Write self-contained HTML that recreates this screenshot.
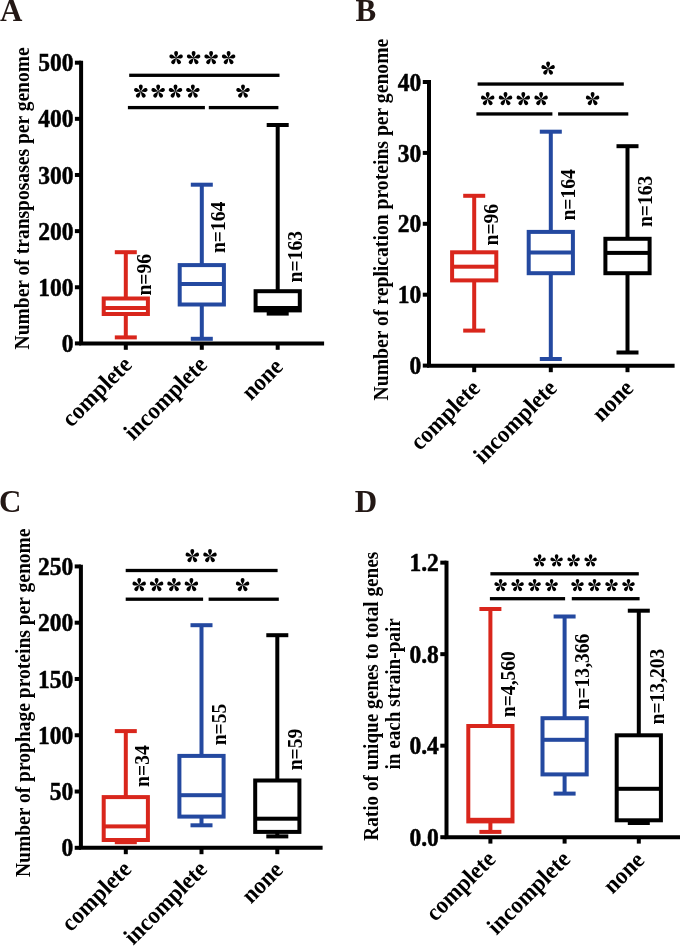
<!DOCTYPE html>
<html><head><meta charset="utf-8"><style>html,body{margin:0;padding:0;background:#fff;}svg{display:block;will-change:transform;}</style></head>
<body><svg width="685" height="947" viewBox="0 0 685 947">
<rect width="685" height="947" fill="#fff"/>
<text transform="translate(0.10,20.60)" font-family="Liberation Serif" font-weight="bold" font-size="31" text-anchor="start" fill="#231815">A</text>
<path d="M81.10,60.70 V343.40 H324.10" fill="none" stroke="#000" stroke-width="4.0" stroke-linejoin="miter"/>
<rect x="74.90" y="60.70" width="6.20" height="4.00" fill="#000"/>
<text transform="translate(73.40,71.30) scale(0.94,1)" font-family="Liberation Serif" font-weight="bold" font-size="25" text-anchor="end" fill="#000" stroke="#000" stroke-width="0.5">500</text>
<rect x="74.90" y="116.84" width="6.20" height="4.00" fill="#000"/>
<text transform="translate(73.40,127.44) scale(0.94,1)" font-family="Liberation Serif" font-weight="bold" font-size="25" text-anchor="end" fill="#000" stroke="#000" stroke-width="0.5">400</text>
<rect x="74.90" y="172.98" width="6.20" height="4.00" fill="#000"/>
<text transform="translate(73.40,183.58) scale(0.94,1)" font-family="Liberation Serif" font-weight="bold" font-size="25" text-anchor="end" fill="#000" stroke="#000" stroke-width="0.5">300</text>
<rect x="74.90" y="229.12" width="6.20" height="4.00" fill="#000"/>
<text transform="translate(73.40,239.72) scale(0.94,1)" font-family="Liberation Serif" font-weight="bold" font-size="25" text-anchor="end" fill="#000" stroke="#000" stroke-width="0.5">200</text>
<rect x="74.90" y="285.26" width="6.20" height="4.00" fill="#000"/>
<text transform="translate(73.40,295.86) scale(0.94,1)" font-family="Liberation Serif" font-weight="bold" font-size="25" text-anchor="end" fill="#000" stroke="#000" stroke-width="0.5">100</text>
<rect x="74.90" y="341.40" width="6.20" height="4.00" fill="#000"/>
<text transform="translate(73.40,352.00) scale(0.94,1)" font-family="Liberation Serif" font-weight="bold" font-size="25" text-anchor="end" fill="#000" stroke="#000" stroke-width="0.5">0</text>
<rect x="123.80" y="343.40" width="4.00" height="6.40" fill="#000"/>
<rect x="199.80" y="343.40" width="4.00" height="6.40" fill="#000"/>
<rect x="275.70" y="343.40" width="4.00" height="6.40" fill="#000"/>
<rect x="123.80" y="252.20" width="4.00" height="46.30" fill="#D9261C"/>
<rect x="123.80" y="314.00" width="4.00" height="23.40" fill="#D9261C"/>
<rect x="114.80" y="250.20" width="22.00" height="4.00" fill="#D9261C"/>
<rect x="114.80" y="335.40" width="22.00" height="4.00" fill="#D9261C"/>
<rect x="103.70" y="298.50" width="44.20" height="15.50" fill="none" stroke="#D9261C" stroke-width="4.0"/>
<rect x="103.70" y="306.00" width="44.20" height="4.00" fill="#D9261C"/>
<rect x="199.80" y="184.70" width="4.00" height="80.40" fill="#2449A0"/>
<rect x="199.80" y="304.50" width="4.00" height="34.30" fill="#2449A0"/>
<rect x="190.80" y="182.70" width="22.00" height="4.00" fill="#2449A0"/>
<rect x="190.80" y="336.80" width="22.00" height="4.00" fill="#2449A0"/>
<rect x="179.70" y="265.10" width="44.20" height="39.40" fill="none" stroke="#2449A0" stroke-width="4.0"/>
<rect x="179.70" y="282.00" width="44.20" height="4.00" fill="#2449A0"/>
<rect x="275.70" y="125.00" width="4.00" height="166.20" fill="#000"/>
<rect x="275.70" y="310.40" width="4.00" height="3.20" fill="#000"/>
<rect x="266.70" y="123.00" width="22.00" height="4.00" fill="#000"/>
<rect x="266.70" y="311.60" width="22.00" height="4.00" fill="#000"/>
<rect x="255.60" y="291.20" width="44.20" height="19.20" fill="none" stroke="#000" stroke-width="4.0"/>
<rect x="255.60" y="306.00" width="44.20" height="4.00" fill="#000"/>
<rect x="129.20" y="73.65" width="150.30" height="3.30" fill="#000"/>
<rect x="127.90" y="105.95" width="77.00" height="3.30" fill="#000"/>
<rect x="208.80" y="105.95" width="69.60" height="3.30" fill="#000"/>
<g transform="translate(176.10,58.00) scale(1.0)" fill="#000"><path d="M0 .4C-.25 -1.4 -1.95 -3.15 -1.95 -5.05A1.95 1.95 0 1 1 1.95 -5.05C1.95 -3.15 .25 -1.4 0 .4Z" transform="rotate(0)"/><path d="M0 .4C-.25 -1.4 -1.95 -3.15 -1.95 -5.05A1.95 1.95 0 1 1 1.95 -5.05C1.95 -3.15 .25 -1.4 0 .4Z" transform="rotate(72)"/><path d="M0 .4C-.25 -1.4 -1.95 -3.15 -1.95 -5.05A1.95 1.95 0 1 1 1.95 -5.05C1.95 -3.15 .25 -1.4 0 .4Z" transform="rotate(144)"/><path d="M0 .4C-.25 -1.4 -1.95 -3.15 -1.95 -5.05A1.95 1.95 0 1 1 1.95 -5.05C1.95 -3.15 .25 -1.4 0 .4Z" transform="rotate(216)"/><path d="M0 .4C-.25 -1.4 -1.95 -3.15 -1.95 -5.05A1.95 1.95 0 1 1 1.95 -5.05C1.95 -3.15 .25 -1.4 0 .4Z" transform="rotate(288)"/></g>
<g transform="translate(193.60,58.00) scale(1.0)" fill="#000"><path d="M0 .4C-.25 -1.4 -1.95 -3.15 -1.95 -5.05A1.95 1.95 0 1 1 1.95 -5.05C1.95 -3.15 .25 -1.4 0 .4Z" transform="rotate(0)"/><path d="M0 .4C-.25 -1.4 -1.95 -3.15 -1.95 -5.05A1.95 1.95 0 1 1 1.95 -5.05C1.95 -3.15 .25 -1.4 0 .4Z" transform="rotate(72)"/><path d="M0 .4C-.25 -1.4 -1.95 -3.15 -1.95 -5.05A1.95 1.95 0 1 1 1.95 -5.05C1.95 -3.15 .25 -1.4 0 .4Z" transform="rotate(144)"/><path d="M0 .4C-.25 -1.4 -1.95 -3.15 -1.95 -5.05A1.95 1.95 0 1 1 1.95 -5.05C1.95 -3.15 .25 -1.4 0 .4Z" transform="rotate(216)"/><path d="M0 .4C-.25 -1.4 -1.95 -3.15 -1.95 -5.05A1.95 1.95 0 1 1 1.95 -5.05C1.95 -3.15 .25 -1.4 0 .4Z" transform="rotate(288)"/></g>
<g transform="translate(211.10,58.00) scale(1.0)" fill="#000"><path d="M0 .4C-.25 -1.4 -1.95 -3.15 -1.95 -5.05A1.95 1.95 0 1 1 1.95 -5.05C1.95 -3.15 .25 -1.4 0 .4Z" transform="rotate(0)"/><path d="M0 .4C-.25 -1.4 -1.95 -3.15 -1.95 -5.05A1.95 1.95 0 1 1 1.95 -5.05C1.95 -3.15 .25 -1.4 0 .4Z" transform="rotate(72)"/><path d="M0 .4C-.25 -1.4 -1.95 -3.15 -1.95 -5.05A1.95 1.95 0 1 1 1.95 -5.05C1.95 -3.15 .25 -1.4 0 .4Z" transform="rotate(144)"/><path d="M0 .4C-.25 -1.4 -1.95 -3.15 -1.95 -5.05A1.95 1.95 0 1 1 1.95 -5.05C1.95 -3.15 .25 -1.4 0 .4Z" transform="rotate(216)"/><path d="M0 .4C-.25 -1.4 -1.95 -3.15 -1.95 -5.05A1.95 1.95 0 1 1 1.95 -5.05C1.95 -3.15 .25 -1.4 0 .4Z" transform="rotate(288)"/></g>
<g transform="translate(228.60,58.00) scale(1.0)" fill="#000"><path d="M0 .4C-.25 -1.4 -1.95 -3.15 -1.95 -5.05A1.95 1.95 0 1 1 1.95 -5.05C1.95 -3.15 .25 -1.4 0 .4Z" transform="rotate(0)"/><path d="M0 .4C-.25 -1.4 -1.95 -3.15 -1.95 -5.05A1.95 1.95 0 1 1 1.95 -5.05C1.95 -3.15 .25 -1.4 0 .4Z" transform="rotate(72)"/><path d="M0 .4C-.25 -1.4 -1.95 -3.15 -1.95 -5.05A1.95 1.95 0 1 1 1.95 -5.05C1.95 -3.15 .25 -1.4 0 .4Z" transform="rotate(144)"/><path d="M0 .4C-.25 -1.4 -1.95 -3.15 -1.95 -5.05A1.95 1.95 0 1 1 1.95 -5.05C1.95 -3.15 .25 -1.4 0 .4Z" transform="rotate(216)"/><path d="M0 .4C-.25 -1.4 -1.95 -3.15 -1.95 -5.05A1.95 1.95 0 1 1 1.95 -5.05C1.95 -3.15 .25 -1.4 0 .4Z" transform="rotate(288)"/></g>
<g transform="translate(140.80,91.50) scale(1.0)" fill="#000"><path d="M0 .4C-.25 -1.4 -1.95 -3.15 -1.95 -5.05A1.95 1.95 0 1 1 1.95 -5.05C1.95 -3.15 .25 -1.4 0 .4Z" transform="rotate(0)"/><path d="M0 .4C-.25 -1.4 -1.95 -3.15 -1.95 -5.05A1.95 1.95 0 1 1 1.95 -5.05C1.95 -3.15 .25 -1.4 0 .4Z" transform="rotate(72)"/><path d="M0 .4C-.25 -1.4 -1.95 -3.15 -1.95 -5.05A1.95 1.95 0 1 1 1.95 -5.05C1.95 -3.15 .25 -1.4 0 .4Z" transform="rotate(144)"/><path d="M0 .4C-.25 -1.4 -1.95 -3.15 -1.95 -5.05A1.95 1.95 0 1 1 1.95 -5.05C1.95 -3.15 .25 -1.4 0 .4Z" transform="rotate(216)"/><path d="M0 .4C-.25 -1.4 -1.95 -3.15 -1.95 -5.05A1.95 1.95 0 1 1 1.95 -5.05C1.95 -3.15 .25 -1.4 0 .4Z" transform="rotate(288)"/></g>
<g transform="translate(158.15,91.50) scale(1.0)" fill="#000"><path d="M0 .4C-.25 -1.4 -1.95 -3.15 -1.95 -5.05A1.95 1.95 0 1 1 1.95 -5.05C1.95 -3.15 .25 -1.4 0 .4Z" transform="rotate(0)"/><path d="M0 .4C-.25 -1.4 -1.95 -3.15 -1.95 -5.05A1.95 1.95 0 1 1 1.95 -5.05C1.95 -3.15 .25 -1.4 0 .4Z" transform="rotate(72)"/><path d="M0 .4C-.25 -1.4 -1.95 -3.15 -1.95 -5.05A1.95 1.95 0 1 1 1.95 -5.05C1.95 -3.15 .25 -1.4 0 .4Z" transform="rotate(144)"/><path d="M0 .4C-.25 -1.4 -1.95 -3.15 -1.95 -5.05A1.95 1.95 0 1 1 1.95 -5.05C1.95 -3.15 .25 -1.4 0 .4Z" transform="rotate(216)"/><path d="M0 .4C-.25 -1.4 -1.95 -3.15 -1.95 -5.05A1.95 1.95 0 1 1 1.95 -5.05C1.95 -3.15 .25 -1.4 0 .4Z" transform="rotate(288)"/></g>
<g transform="translate(175.50,91.50) scale(1.0)" fill="#000"><path d="M0 .4C-.25 -1.4 -1.95 -3.15 -1.95 -5.05A1.95 1.95 0 1 1 1.95 -5.05C1.95 -3.15 .25 -1.4 0 .4Z" transform="rotate(0)"/><path d="M0 .4C-.25 -1.4 -1.95 -3.15 -1.95 -5.05A1.95 1.95 0 1 1 1.95 -5.05C1.95 -3.15 .25 -1.4 0 .4Z" transform="rotate(72)"/><path d="M0 .4C-.25 -1.4 -1.95 -3.15 -1.95 -5.05A1.95 1.95 0 1 1 1.95 -5.05C1.95 -3.15 .25 -1.4 0 .4Z" transform="rotate(144)"/><path d="M0 .4C-.25 -1.4 -1.95 -3.15 -1.95 -5.05A1.95 1.95 0 1 1 1.95 -5.05C1.95 -3.15 .25 -1.4 0 .4Z" transform="rotate(216)"/><path d="M0 .4C-.25 -1.4 -1.95 -3.15 -1.95 -5.05A1.95 1.95 0 1 1 1.95 -5.05C1.95 -3.15 .25 -1.4 0 .4Z" transform="rotate(288)"/></g>
<g transform="translate(192.85,91.50) scale(1.0)" fill="#000"><path d="M0 .4C-.25 -1.4 -1.95 -3.15 -1.95 -5.05A1.95 1.95 0 1 1 1.95 -5.05C1.95 -3.15 .25 -1.4 0 .4Z" transform="rotate(0)"/><path d="M0 .4C-.25 -1.4 -1.95 -3.15 -1.95 -5.05A1.95 1.95 0 1 1 1.95 -5.05C1.95 -3.15 .25 -1.4 0 .4Z" transform="rotate(72)"/><path d="M0 .4C-.25 -1.4 -1.95 -3.15 -1.95 -5.05A1.95 1.95 0 1 1 1.95 -5.05C1.95 -3.15 .25 -1.4 0 .4Z" transform="rotate(144)"/><path d="M0 .4C-.25 -1.4 -1.95 -3.15 -1.95 -5.05A1.95 1.95 0 1 1 1.95 -5.05C1.95 -3.15 .25 -1.4 0 .4Z" transform="rotate(216)"/><path d="M0 .4C-.25 -1.4 -1.95 -3.15 -1.95 -5.05A1.95 1.95 0 1 1 1.95 -5.05C1.95 -3.15 .25 -1.4 0 .4Z" transform="rotate(288)"/></g>
<g transform="translate(243.00,91.50) scale(1.0)" fill="#000"><path d="M0 .4C-.25 -1.4 -1.95 -3.15 -1.95 -5.05A1.95 1.95 0 1 1 1.95 -5.05C1.95 -3.15 .25 -1.4 0 .4Z" transform="rotate(0)"/><path d="M0 .4C-.25 -1.4 -1.95 -3.15 -1.95 -5.05A1.95 1.95 0 1 1 1.95 -5.05C1.95 -3.15 .25 -1.4 0 .4Z" transform="rotate(72)"/><path d="M0 .4C-.25 -1.4 -1.95 -3.15 -1.95 -5.05A1.95 1.95 0 1 1 1.95 -5.05C1.95 -3.15 .25 -1.4 0 .4Z" transform="rotate(144)"/><path d="M0 .4C-.25 -1.4 -1.95 -3.15 -1.95 -5.05A1.95 1.95 0 1 1 1.95 -5.05C1.95 -3.15 .25 -1.4 0 .4Z" transform="rotate(216)"/><path d="M0 .4C-.25 -1.4 -1.95 -3.15 -1.95 -5.05A1.95 1.95 0 1 1 1.95 -5.05C1.95 -3.15 .25 -1.4 0 .4Z" transform="rotate(288)"/></g>
<text transform="translate(29.30,198.40) rotate(-90) scale(0.9524,1)" font-family="Liberation Serif" font-weight="bold" font-size="20.527" text-anchor="middle" fill="#000">Number of transposases per genome</text>
<text transform="translate(150.90,295.60) rotate(-90) scale(0.9524,1)" font-family="Liberation Serif" font-weight="bold" font-size="20.58" text-anchor="start" fill="#000">n=96</text>
<text transform="translate(224.60,253.10) rotate(-90) scale(0.9524,1)" font-family="Liberation Serif" font-weight="bold" font-size="20.58" text-anchor="start" fill="#000">n=164</text>
<text transform="translate(302.20,282.40) rotate(-90) scale(0.9524,1)" font-family="Liberation Serif" font-weight="bold" font-size="20.58" text-anchor="start" fill="#000">n=163</text>
<text transform="translate(133.10,366.20) rotate(-45) scale(0.9524,1)" font-family="Liberation Serif" font-weight="bold" font-size="23.94" text-anchor="end" fill="#000">complete</text>
<text transform="translate(208.50,366.20) rotate(-45) scale(0.9524,1)" font-family="Liberation Serif" font-weight="bold" font-size="23.94" text-anchor="end" fill="#000">incomplete</text>
<text transform="translate(284.20,368.10) rotate(-45) scale(0.9524,1)" font-family="Liberation Serif" font-weight="bold" font-size="23.94" text-anchor="end" fill="#000">none</text>
<text transform="translate(355.60,21.20)" font-family="Liberation Serif" font-weight="bold" font-size="31" text-anchor="start" fill="#231815">B</text>
<path d="M429.00,80.00 V365.80 H674.60" fill="none" stroke="#000" stroke-width="4.0" stroke-linejoin="miter"/>
<rect x="422.80" y="80.00" width="6.20" height="4.00" fill="#000"/>
<text transform="translate(421.30,90.60) scale(0.94,1)" font-family="Liberation Serif" font-weight="bold" font-size="25" text-anchor="end" fill="#000" stroke="#000" stroke-width="0.5">40</text>
<rect x="422.80" y="150.90" width="6.20" height="4.00" fill="#000"/>
<text transform="translate(421.30,161.50) scale(0.94,1)" font-family="Liberation Serif" font-weight="bold" font-size="25" text-anchor="end" fill="#000" stroke="#000" stroke-width="0.5">30</text>
<rect x="422.80" y="221.80" width="6.20" height="4.00" fill="#000"/>
<text transform="translate(421.30,232.40) scale(0.94,1)" font-family="Liberation Serif" font-weight="bold" font-size="25" text-anchor="end" fill="#000" stroke="#000" stroke-width="0.5">20</text>
<rect x="422.80" y="292.70" width="6.20" height="4.00" fill="#000"/>
<text transform="translate(421.30,303.30) scale(0.94,1)" font-family="Liberation Serif" font-weight="bold" font-size="25" text-anchor="end" fill="#000" stroke="#000" stroke-width="0.5">10</text>
<rect x="422.80" y="363.60" width="6.20" height="4.00" fill="#000"/>
<text transform="translate(421.30,374.20) scale(0.94,1)" font-family="Liberation Serif" font-weight="bold" font-size="25" text-anchor="end" fill="#000" stroke="#000" stroke-width="0.5">0</text>
<rect x="472.20" y="365.80" width="4.00" height="6.40" fill="#000"/>
<rect x="548.80" y="365.80" width="4.00" height="6.40" fill="#000"/>
<rect x="625.50" y="365.80" width="4.00" height="6.40" fill="#000"/>
<rect x="472.20" y="195.80" width="4.00" height="56.50" fill="#D9261C"/>
<rect x="472.20" y="280.40" width="4.00" height="50.20" fill="#D9261C"/>
<rect x="463.20" y="193.80" width="22.00" height="4.00" fill="#D9261C"/>
<rect x="463.20" y="328.60" width="22.00" height="4.00" fill="#D9261C"/>
<rect x="452.10" y="252.30" width="44.20" height="28.10" fill="none" stroke="#D9261C" stroke-width="4.0"/>
<rect x="452.10" y="264.70" width="44.20" height="4.00" fill="#D9261C"/>
<rect x="548.80" y="131.70" width="4.00" height="100.20" fill="#2449A0"/>
<rect x="548.80" y="273.20" width="4.00" height="85.80" fill="#2449A0"/>
<rect x="539.80" y="129.70" width="22.00" height="4.00" fill="#2449A0"/>
<rect x="539.80" y="357.00" width="22.00" height="4.00" fill="#2449A0"/>
<rect x="528.70" y="231.90" width="44.20" height="41.30" fill="none" stroke="#2449A0" stroke-width="4.0"/>
<rect x="528.70" y="250.50" width="44.20" height="4.00" fill="#2449A0"/>
<rect x="625.50" y="146.20" width="4.00" height="92.60" fill="#000"/>
<rect x="625.50" y="273.20" width="4.00" height="79.30" fill="#000"/>
<rect x="616.50" y="144.20" width="22.00" height="4.00" fill="#000"/>
<rect x="616.50" y="350.50" width="22.00" height="4.00" fill="#000"/>
<rect x="605.40" y="238.80" width="44.20" height="34.40" fill="none" stroke="#000" stroke-width="4.0"/>
<rect x="605.40" y="250.90" width="44.20" height="4.00" fill="#000"/>
<rect x="477.60" y="82.40" width="146.20" height="3.30" fill="#000"/>
<rect x="476.40" y="112.30" width="76.00" height="3.30" fill="#000"/>
<rect x="558.10" y="112.30" width="70.20" height="3.30" fill="#000"/>
<g transform="translate(548.10,68.60) scale(1.0)" fill="#000"><path d="M0 .4C-.25 -1.4 -1.95 -3.15 -1.95 -5.05A1.95 1.95 0 1 1 1.95 -5.05C1.95 -3.15 .25 -1.4 0 .4Z" transform="rotate(0)"/><path d="M0 .4C-.25 -1.4 -1.95 -3.15 -1.95 -5.05A1.95 1.95 0 1 1 1.95 -5.05C1.95 -3.15 .25 -1.4 0 .4Z" transform="rotate(72)"/><path d="M0 .4C-.25 -1.4 -1.95 -3.15 -1.95 -5.05A1.95 1.95 0 1 1 1.95 -5.05C1.95 -3.15 .25 -1.4 0 .4Z" transform="rotate(144)"/><path d="M0 .4C-.25 -1.4 -1.95 -3.15 -1.95 -5.05A1.95 1.95 0 1 1 1.95 -5.05C1.95 -3.15 .25 -1.4 0 .4Z" transform="rotate(216)"/><path d="M0 .4C-.25 -1.4 -1.95 -3.15 -1.95 -5.05A1.95 1.95 0 1 1 1.95 -5.05C1.95 -3.15 .25 -1.4 0 .4Z" transform="rotate(288)"/></g>
<g transform="translate(487.70,99.10) scale(1.0)" fill="#000"><path d="M0 .4C-.25 -1.4 -1.95 -3.15 -1.95 -5.05A1.95 1.95 0 1 1 1.95 -5.05C1.95 -3.15 .25 -1.4 0 .4Z" transform="rotate(0)"/><path d="M0 .4C-.25 -1.4 -1.95 -3.15 -1.95 -5.05A1.95 1.95 0 1 1 1.95 -5.05C1.95 -3.15 .25 -1.4 0 .4Z" transform="rotate(72)"/><path d="M0 .4C-.25 -1.4 -1.95 -3.15 -1.95 -5.05A1.95 1.95 0 1 1 1.95 -5.05C1.95 -3.15 .25 -1.4 0 .4Z" transform="rotate(144)"/><path d="M0 .4C-.25 -1.4 -1.95 -3.15 -1.95 -5.05A1.95 1.95 0 1 1 1.95 -5.05C1.95 -3.15 .25 -1.4 0 .4Z" transform="rotate(216)"/><path d="M0 .4C-.25 -1.4 -1.95 -3.15 -1.95 -5.05A1.95 1.95 0 1 1 1.95 -5.05C1.95 -3.15 .25 -1.4 0 .4Z" transform="rotate(288)"/></g>
<g transform="translate(505.50,99.10) scale(1.0)" fill="#000"><path d="M0 .4C-.25 -1.4 -1.95 -3.15 -1.95 -5.05A1.95 1.95 0 1 1 1.95 -5.05C1.95 -3.15 .25 -1.4 0 .4Z" transform="rotate(0)"/><path d="M0 .4C-.25 -1.4 -1.95 -3.15 -1.95 -5.05A1.95 1.95 0 1 1 1.95 -5.05C1.95 -3.15 .25 -1.4 0 .4Z" transform="rotate(72)"/><path d="M0 .4C-.25 -1.4 -1.95 -3.15 -1.95 -5.05A1.95 1.95 0 1 1 1.95 -5.05C1.95 -3.15 .25 -1.4 0 .4Z" transform="rotate(144)"/><path d="M0 .4C-.25 -1.4 -1.95 -3.15 -1.95 -5.05A1.95 1.95 0 1 1 1.95 -5.05C1.95 -3.15 .25 -1.4 0 .4Z" transform="rotate(216)"/><path d="M0 .4C-.25 -1.4 -1.95 -3.15 -1.95 -5.05A1.95 1.95 0 1 1 1.95 -5.05C1.95 -3.15 .25 -1.4 0 .4Z" transform="rotate(288)"/></g>
<g transform="translate(523.30,99.10) scale(1.0)" fill="#000"><path d="M0 .4C-.25 -1.4 -1.95 -3.15 -1.95 -5.05A1.95 1.95 0 1 1 1.95 -5.05C1.95 -3.15 .25 -1.4 0 .4Z" transform="rotate(0)"/><path d="M0 .4C-.25 -1.4 -1.95 -3.15 -1.95 -5.05A1.95 1.95 0 1 1 1.95 -5.05C1.95 -3.15 .25 -1.4 0 .4Z" transform="rotate(72)"/><path d="M0 .4C-.25 -1.4 -1.95 -3.15 -1.95 -5.05A1.95 1.95 0 1 1 1.95 -5.05C1.95 -3.15 .25 -1.4 0 .4Z" transform="rotate(144)"/><path d="M0 .4C-.25 -1.4 -1.95 -3.15 -1.95 -5.05A1.95 1.95 0 1 1 1.95 -5.05C1.95 -3.15 .25 -1.4 0 .4Z" transform="rotate(216)"/><path d="M0 .4C-.25 -1.4 -1.95 -3.15 -1.95 -5.05A1.95 1.95 0 1 1 1.95 -5.05C1.95 -3.15 .25 -1.4 0 .4Z" transform="rotate(288)"/></g>
<g transform="translate(541.10,99.10) scale(1.0)" fill="#000"><path d="M0 .4C-.25 -1.4 -1.95 -3.15 -1.95 -5.05A1.95 1.95 0 1 1 1.95 -5.05C1.95 -3.15 .25 -1.4 0 .4Z" transform="rotate(0)"/><path d="M0 .4C-.25 -1.4 -1.95 -3.15 -1.95 -5.05A1.95 1.95 0 1 1 1.95 -5.05C1.95 -3.15 .25 -1.4 0 .4Z" transform="rotate(72)"/><path d="M0 .4C-.25 -1.4 -1.95 -3.15 -1.95 -5.05A1.95 1.95 0 1 1 1.95 -5.05C1.95 -3.15 .25 -1.4 0 .4Z" transform="rotate(144)"/><path d="M0 .4C-.25 -1.4 -1.95 -3.15 -1.95 -5.05A1.95 1.95 0 1 1 1.95 -5.05C1.95 -3.15 .25 -1.4 0 .4Z" transform="rotate(216)"/><path d="M0 .4C-.25 -1.4 -1.95 -3.15 -1.95 -5.05A1.95 1.95 0 1 1 1.95 -5.05C1.95 -3.15 .25 -1.4 0 .4Z" transform="rotate(288)"/></g>
<g transform="translate(592.60,99.10) scale(1.0)" fill="#000"><path d="M0 .4C-.25 -1.4 -1.95 -3.15 -1.95 -5.05A1.95 1.95 0 1 1 1.95 -5.05C1.95 -3.15 .25 -1.4 0 .4Z" transform="rotate(0)"/><path d="M0 .4C-.25 -1.4 -1.95 -3.15 -1.95 -5.05A1.95 1.95 0 1 1 1.95 -5.05C1.95 -3.15 .25 -1.4 0 .4Z" transform="rotate(72)"/><path d="M0 .4C-.25 -1.4 -1.95 -3.15 -1.95 -5.05A1.95 1.95 0 1 1 1.95 -5.05C1.95 -3.15 .25 -1.4 0 .4Z" transform="rotate(144)"/><path d="M0 .4C-.25 -1.4 -1.95 -3.15 -1.95 -5.05A1.95 1.95 0 1 1 1.95 -5.05C1.95 -3.15 .25 -1.4 0 .4Z" transform="rotate(216)"/><path d="M0 .4C-.25 -1.4 -1.95 -3.15 -1.95 -5.05A1.95 1.95 0 1 1 1.95 -5.05C1.95 -3.15 .25 -1.4 0 .4Z" transform="rotate(288)"/></g>
<text transform="translate(387.80,219.55) rotate(-90) scale(0.9524,1)" font-family="Liberation Serif" font-weight="bold" font-size="20.664" text-anchor="middle" fill="#000">Number of replication proteins per genome</text>
<text transform="translate(498.00,245.50) rotate(-90) scale(0.9524,1)" font-family="Liberation Serif" font-weight="bold" font-size="20.58" text-anchor="start" fill="#000">n=96</text>
<text transform="translate(574.60,220.60) rotate(-90) scale(0.9524,1)" font-family="Liberation Serif" font-weight="bold" font-size="20.58" text-anchor="start" fill="#000">n=164</text>
<text transform="translate(651.90,227.10) rotate(-90) scale(0.9524,1)" font-family="Liberation Serif" font-weight="bold" font-size="20.58" text-anchor="start" fill="#000">n=163</text>
<text transform="translate(481.50,389.60) rotate(-45) scale(0.9524,1)" font-family="Liberation Serif" font-weight="bold" font-size="23.94" text-anchor="end" fill="#000">complete</text>
<text transform="translate(558.10,389.60) rotate(-45) scale(0.9524,1)" font-family="Liberation Serif" font-weight="bold" font-size="23.94" text-anchor="end" fill="#000">incomplete</text>
<text transform="translate(634.70,389.50) rotate(-45) scale(0.9524,1)" font-family="Liberation Serif" font-weight="bold" font-size="23.94" text-anchor="end" fill="#000">none</text>
<text transform="translate(-0.90,512.10)" font-family="Liberation Serif" font-weight="bold" font-size="31" text-anchor="start" fill="#231815">C</text>
<path d="M80.90,564.80 V847.80 H322.60" fill="none" stroke="#000" stroke-width="4.0" stroke-linejoin="miter"/>
<rect x="74.70" y="564.42" width="6.20" height="4.00" fill="#000"/>
<text transform="translate(73.20,575.02) scale(0.94,1)" font-family="Liberation Serif" font-weight="bold" font-size="25" text-anchor="end" fill="#000" stroke="#000" stroke-width="0.5">250</text>
<rect x="74.70" y="620.70" width="6.20" height="4.00" fill="#000"/>
<text transform="translate(73.20,631.30) scale(0.94,1)" font-family="Liberation Serif" font-weight="bold" font-size="25" text-anchor="end" fill="#000" stroke="#000" stroke-width="0.5">200</text>
<rect x="74.70" y="676.97" width="6.20" height="4.00" fill="#000"/>
<text transform="translate(73.20,687.57) scale(0.94,1)" font-family="Liberation Serif" font-weight="bold" font-size="25" text-anchor="end" fill="#000" stroke="#000" stroke-width="0.5">150</text>
<rect x="74.70" y="733.25" width="6.20" height="4.00" fill="#000"/>
<text transform="translate(73.20,743.85) scale(0.94,1)" font-family="Liberation Serif" font-weight="bold" font-size="25" text-anchor="end" fill="#000" stroke="#000" stroke-width="0.5">100</text>
<rect x="74.70" y="789.52" width="6.20" height="4.00" fill="#000"/>
<text transform="translate(73.20,800.12) scale(0.94,1)" font-family="Liberation Serif" font-weight="bold" font-size="25" text-anchor="end" fill="#000" stroke="#000" stroke-width="0.5">50</text>
<rect x="74.70" y="845.80" width="6.20" height="4.00" fill="#000"/>
<text transform="translate(73.20,856.40) scale(0.94,1)" font-family="Liberation Serif" font-weight="bold" font-size="25" text-anchor="end" fill="#000" stroke="#000" stroke-width="0.5">0</text>
<rect x="123.80" y="847.80" width="4.00" height="6.40" fill="#000"/>
<rect x="199.50" y="847.80" width="4.00" height="6.40" fill="#000"/>
<rect x="275.30" y="847.80" width="4.00" height="6.40" fill="#000"/>
<rect x="123.80" y="731.10" width="4.00" height="66.00" fill="#D9261C"/>
<rect x="123.80" y="840.00" width="4.00" height="2.20" fill="#D9261C"/>
<rect x="114.80" y="729.10" width="22.00" height="4.00" fill="#D9261C"/>
<rect x="114.80" y="840.20" width="22.00" height="4.00" fill="#D9261C"/>
<rect x="103.70" y="797.10" width="44.20" height="42.90" fill="none" stroke="#D9261C" stroke-width="4.0"/>
<rect x="103.70" y="824.40" width="44.20" height="4.00" fill="#D9261C"/>
<rect x="199.50" y="625.20" width="4.00" height="130.70" fill="#2449A0"/>
<rect x="199.50" y="816.60" width="4.00" height="8.70" fill="#2449A0"/>
<rect x="190.50" y="623.20" width="22.00" height="4.00" fill="#2449A0"/>
<rect x="190.50" y="823.30" width="22.00" height="4.00" fill="#2449A0"/>
<rect x="179.40" y="755.90" width="44.20" height="60.70" fill="none" stroke="#2449A0" stroke-width="4.0"/>
<rect x="179.40" y="793.20" width="44.20" height="4.00" fill="#2449A0"/>
<rect x="275.30" y="635.20" width="4.00" height="145.30" fill="#000"/>
<rect x="275.30" y="831.90" width="4.00" height="4.50" fill="#000"/>
<rect x="266.30" y="633.20" width="22.00" height="4.00" fill="#000"/>
<rect x="266.30" y="834.40" width="22.00" height="4.00" fill="#000"/>
<rect x="255.20" y="780.50" width="44.20" height="51.40" fill="none" stroke="#000" stroke-width="4.0"/>
<rect x="255.20" y="816.70" width="44.20" height="4.00" fill="#000"/>
<rect x="125.70" y="568.85" width="151.90" height="3.30" fill="#000"/>
<rect x="125.70" y="597.55" width="77.40" height="3.30" fill="#000"/>
<rect x="208.60" y="597.55" width="70.20" height="3.30" fill="#000"/>
<g transform="translate(192.30,556.10) scale(1.0)" fill="#000"><path d="M0 .4C-.25 -1.4 -1.95 -3.15 -1.95 -5.05A1.95 1.95 0 1 1 1.95 -5.05C1.95 -3.15 .25 -1.4 0 .4Z" transform="rotate(0)"/><path d="M0 .4C-.25 -1.4 -1.95 -3.15 -1.95 -5.05A1.95 1.95 0 1 1 1.95 -5.05C1.95 -3.15 .25 -1.4 0 .4Z" transform="rotate(72)"/><path d="M0 .4C-.25 -1.4 -1.95 -3.15 -1.95 -5.05A1.95 1.95 0 1 1 1.95 -5.05C1.95 -3.15 .25 -1.4 0 .4Z" transform="rotate(144)"/><path d="M0 .4C-.25 -1.4 -1.95 -3.15 -1.95 -5.05A1.95 1.95 0 1 1 1.95 -5.05C1.95 -3.15 .25 -1.4 0 .4Z" transform="rotate(216)"/><path d="M0 .4C-.25 -1.4 -1.95 -3.15 -1.95 -5.05A1.95 1.95 0 1 1 1.95 -5.05C1.95 -3.15 .25 -1.4 0 .4Z" transform="rotate(288)"/></g>
<g transform="translate(210.00,556.10) scale(1.0)" fill="#000"><path d="M0 .4C-.25 -1.4 -1.95 -3.15 -1.95 -5.05A1.95 1.95 0 1 1 1.95 -5.05C1.95 -3.15 .25 -1.4 0 .4Z" transform="rotate(0)"/><path d="M0 .4C-.25 -1.4 -1.95 -3.15 -1.95 -5.05A1.95 1.95 0 1 1 1.95 -5.05C1.95 -3.15 .25 -1.4 0 .4Z" transform="rotate(72)"/><path d="M0 .4C-.25 -1.4 -1.95 -3.15 -1.95 -5.05A1.95 1.95 0 1 1 1.95 -5.05C1.95 -3.15 .25 -1.4 0 .4Z" transform="rotate(144)"/><path d="M0 .4C-.25 -1.4 -1.95 -3.15 -1.95 -5.05A1.95 1.95 0 1 1 1.95 -5.05C1.95 -3.15 .25 -1.4 0 .4Z" transform="rotate(216)"/><path d="M0 .4C-.25 -1.4 -1.95 -3.15 -1.95 -5.05A1.95 1.95 0 1 1 1.95 -5.05C1.95 -3.15 .25 -1.4 0 .4Z" transform="rotate(288)"/></g>
<g transform="translate(139.20,585.10) scale(1.0)" fill="#000"><path d="M0 .4C-.25 -1.4 -1.95 -3.15 -1.95 -5.05A1.95 1.95 0 1 1 1.95 -5.05C1.95 -3.15 .25 -1.4 0 .4Z" transform="rotate(0)"/><path d="M0 .4C-.25 -1.4 -1.95 -3.15 -1.95 -5.05A1.95 1.95 0 1 1 1.95 -5.05C1.95 -3.15 .25 -1.4 0 .4Z" transform="rotate(72)"/><path d="M0 .4C-.25 -1.4 -1.95 -3.15 -1.95 -5.05A1.95 1.95 0 1 1 1.95 -5.05C1.95 -3.15 .25 -1.4 0 .4Z" transform="rotate(144)"/><path d="M0 .4C-.25 -1.4 -1.95 -3.15 -1.95 -5.05A1.95 1.95 0 1 1 1.95 -5.05C1.95 -3.15 .25 -1.4 0 .4Z" transform="rotate(216)"/><path d="M0 .4C-.25 -1.4 -1.95 -3.15 -1.95 -5.05A1.95 1.95 0 1 1 1.95 -5.05C1.95 -3.15 .25 -1.4 0 .4Z" transform="rotate(288)"/></g>
<g transform="translate(156.60,585.10) scale(1.0)" fill="#000"><path d="M0 .4C-.25 -1.4 -1.95 -3.15 -1.95 -5.05A1.95 1.95 0 1 1 1.95 -5.05C1.95 -3.15 .25 -1.4 0 .4Z" transform="rotate(0)"/><path d="M0 .4C-.25 -1.4 -1.95 -3.15 -1.95 -5.05A1.95 1.95 0 1 1 1.95 -5.05C1.95 -3.15 .25 -1.4 0 .4Z" transform="rotate(72)"/><path d="M0 .4C-.25 -1.4 -1.95 -3.15 -1.95 -5.05A1.95 1.95 0 1 1 1.95 -5.05C1.95 -3.15 .25 -1.4 0 .4Z" transform="rotate(144)"/><path d="M0 .4C-.25 -1.4 -1.95 -3.15 -1.95 -5.05A1.95 1.95 0 1 1 1.95 -5.05C1.95 -3.15 .25 -1.4 0 .4Z" transform="rotate(216)"/><path d="M0 .4C-.25 -1.4 -1.95 -3.15 -1.95 -5.05A1.95 1.95 0 1 1 1.95 -5.05C1.95 -3.15 .25 -1.4 0 .4Z" transform="rotate(288)"/></g>
<g transform="translate(174.00,585.10) scale(1.0)" fill="#000"><path d="M0 .4C-.25 -1.4 -1.95 -3.15 -1.95 -5.05A1.95 1.95 0 1 1 1.95 -5.05C1.95 -3.15 .25 -1.4 0 .4Z" transform="rotate(0)"/><path d="M0 .4C-.25 -1.4 -1.95 -3.15 -1.95 -5.05A1.95 1.95 0 1 1 1.95 -5.05C1.95 -3.15 .25 -1.4 0 .4Z" transform="rotate(72)"/><path d="M0 .4C-.25 -1.4 -1.95 -3.15 -1.95 -5.05A1.95 1.95 0 1 1 1.95 -5.05C1.95 -3.15 .25 -1.4 0 .4Z" transform="rotate(144)"/><path d="M0 .4C-.25 -1.4 -1.95 -3.15 -1.95 -5.05A1.95 1.95 0 1 1 1.95 -5.05C1.95 -3.15 .25 -1.4 0 .4Z" transform="rotate(216)"/><path d="M0 .4C-.25 -1.4 -1.95 -3.15 -1.95 -5.05A1.95 1.95 0 1 1 1.95 -5.05C1.95 -3.15 .25 -1.4 0 .4Z" transform="rotate(288)"/></g>
<g transform="translate(191.40,585.10) scale(1.0)" fill="#000"><path d="M0 .4C-.25 -1.4 -1.95 -3.15 -1.95 -5.05A1.95 1.95 0 1 1 1.95 -5.05C1.95 -3.15 .25 -1.4 0 .4Z" transform="rotate(0)"/><path d="M0 .4C-.25 -1.4 -1.95 -3.15 -1.95 -5.05A1.95 1.95 0 1 1 1.95 -5.05C1.95 -3.15 .25 -1.4 0 .4Z" transform="rotate(72)"/><path d="M0 .4C-.25 -1.4 -1.95 -3.15 -1.95 -5.05A1.95 1.95 0 1 1 1.95 -5.05C1.95 -3.15 .25 -1.4 0 .4Z" transform="rotate(144)"/><path d="M0 .4C-.25 -1.4 -1.95 -3.15 -1.95 -5.05A1.95 1.95 0 1 1 1.95 -5.05C1.95 -3.15 .25 -1.4 0 .4Z" transform="rotate(216)"/><path d="M0 .4C-.25 -1.4 -1.95 -3.15 -1.95 -5.05A1.95 1.95 0 1 1 1.95 -5.05C1.95 -3.15 .25 -1.4 0 .4Z" transform="rotate(288)"/></g>
<g transform="translate(242.60,585.10) scale(1.0)" fill="#000"><path d="M0 .4C-.25 -1.4 -1.95 -3.15 -1.95 -5.05A1.95 1.95 0 1 1 1.95 -5.05C1.95 -3.15 .25 -1.4 0 .4Z" transform="rotate(0)"/><path d="M0 .4C-.25 -1.4 -1.95 -3.15 -1.95 -5.05A1.95 1.95 0 1 1 1.95 -5.05C1.95 -3.15 .25 -1.4 0 .4Z" transform="rotate(72)"/><path d="M0 .4C-.25 -1.4 -1.95 -3.15 -1.95 -5.05A1.95 1.95 0 1 1 1.95 -5.05C1.95 -3.15 .25 -1.4 0 .4Z" transform="rotate(144)"/><path d="M0 .4C-.25 -1.4 -1.95 -3.15 -1.95 -5.05A1.95 1.95 0 1 1 1.95 -5.05C1.95 -3.15 .25 -1.4 0 .4Z" transform="rotate(216)"/><path d="M0 .4C-.25 -1.4 -1.95 -3.15 -1.95 -5.05A1.95 1.95 0 1 1 1.95 -5.05C1.95 -3.15 .25 -1.4 0 .4Z" transform="rotate(288)"/></g>
<text transform="translate(29.50,702.80) rotate(-90) scale(0.9524,1)" font-family="Liberation Serif" font-weight="bold" font-size="20.527" text-anchor="middle" fill="#000">Number of prophage proteins per genome</text>
<text transform="translate(148.80,786.90) rotate(-90) scale(0.9524,1)" font-family="Liberation Serif" font-weight="bold" font-size="20.58" text-anchor="start" fill="#000">n=34</text>
<text transform="translate(225.50,745.30) rotate(-90) scale(0.9524,1)" font-family="Liberation Serif" font-weight="bold" font-size="20.58" text-anchor="start" fill="#000">n=55</text>
<text transform="translate(301.70,770.30) rotate(-90) scale(0.9524,1)" font-family="Liberation Serif" font-weight="bold" font-size="20.58" text-anchor="start" fill="#000">n=59</text>
<text transform="translate(132.60,870.70) rotate(-45) scale(0.9524,1)" font-family="Liberation Serif" font-weight="bold" font-size="23.94" text-anchor="end" fill="#000">complete</text>
<text transform="translate(208.50,870.70) rotate(-45) scale(0.9524,1)" font-family="Liberation Serif" font-weight="bold" font-size="23.94" text-anchor="end" fill="#000">incomplete</text>
<text transform="translate(284.20,871.40) rotate(-45) scale(0.9524,1)" font-family="Liberation Serif" font-weight="bold" font-size="23.94" text-anchor="end" fill="#000">none</text>
<text transform="translate(354.80,512.30)" font-family="Liberation Serif" font-weight="bold" font-size="31" text-anchor="start" fill="#231815">D</text>
<path d="M446.50,560.80 V837.20 H680.00" fill="none" stroke="#000" stroke-width="4.0" stroke-linejoin="miter"/>
<rect x="440.30" y="560.64" width="6.20" height="4.00" fill="#000"/>
<text transform="translate(438.80,571.24) scale(0.94,1)" font-family="Liberation Serif" font-weight="bold" font-size="25" text-anchor="end" fill="#000" stroke="#000" stroke-width="0.5">1.2</text>
<rect x="440.30" y="652.16" width="6.20" height="4.00" fill="#000"/>
<text transform="translate(438.80,662.76) scale(0.94,1)" font-family="Liberation Serif" font-weight="bold" font-size="25" text-anchor="end" fill="#000" stroke="#000" stroke-width="0.5">0.8</text>
<rect x="440.30" y="743.68" width="6.20" height="4.00" fill="#000"/>
<text transform="translate(438.80,754.28) scale(0.94,1)" font-family="Liberation Serif" font-weight="bold" font-size="25" text-anchor="end" fill="#000" stroke="#000" stroke-width="0.5">0.4</text>
<rect x="440.30" y="835.20" width="6.20" height="4.00" fill="#000"/>
<text transform="translate(438.80,845.80) scale(0.94,1)" font-family="Liberation Serif" font-weight="bold" font-size="25" text-anchor="end" fill="#000" stroke="#000" stroke-width="0.5">0.0</text>
<rect x="488.40" y="837.20" width="4.00" height="6.40" fill="#000"/>
<rect x="562.60" y="837.20" width="4.00" height="6.40" fill="#000"/>
<rect x="636.80" y="837.20" width="4.00" height="6.40" fill="#000"/>
<rect x="488.40" y="609.00" width="4.00" height="117.00" fill="#D9261C"/>
<rect x="488.40" y="821.40" width="4.00" height="10.50" fill="#D9261C"/>
<rect x="479.40" y="607.00" width="22.00" height="4.00" fill="#D9261C"/>
<rect x="479.40" y="829.90" width="22.00" height="4.00" fill="#D9261C"/>
<rect x="468.30" y="726.00" width="44.20" height="95.40" fill="none" stroke="#D9261C" stroke-width="4.0"/>
<rect x="468.30" y="817.80" width="44.20" height="4.00" fill="#D9261C"/>
<rect x="562.60" y="616.50" width="4.00" height="101.70" fill="#2449A0"/>
<rect x="562.60" y="774.40" width="4.00" height="19.20" fill="#2449A0"/>
<rect x="553.60" y="614.50" width="22.00" height="4.00" fill="#2449A0"/>
<rect x="553.60" y="791.60" width="22.00" height="4.00" fill="#2449A0"/>
<rect x="542.50" y="718.20" width="44.20" height="56.20" fill="none" stroke="#2449A0" stroke-width="4.0"/>
<rect x="542.50" y="737.80" width="44.20" height="4.00" fill="#2449A0"/>
<rect x="636.80" y="610.70" width="4.00" height="124.60" fill="#000"/>
<rect x="636.80" y="820.30" width="4.00" height="2.70" fill="#000"/>
<rect x="627.80" y="608.70" width="22.00" height="4.00" fill="#000"/>
<rect x="627.80" y="821.00" width="22.00" height="4.00" fill="#000"/>
<rect x="616.70" y="735.30" width="44.20" height="85.00" fill="none" stroke="#000" stroke-width="4.0"/>
<rect x="616.70" y="786.80" width="44.20" height="4.00" fill="#000"/>
<rect x="490.40" y="572.15" width="148.40" height="3.30" fill="#000"/>
<rect x="489.90" y="597.05" width="75.20" height="3.30" fill="#000"/>
<rect x="571.80" y="597.05" width="67.80" height="3.30" fill="#000"/>
<g transform="translate(539.60,560.80) scale(0.92)" fill="#000"><path d="M0 .4C-.25 -1.4 -1.95 -3.15 -1.95 -5.05A1.95 1.95 0 1 1 1.95 -5.05C1.95 -3.15 .25 -1.4 0 .4Z" transform="rotate(0)"/><path d="M0 .4C-.25 -1.4 -1.95 -3.15 -1.95 -5.05A1.95 1.95 0 1 1 1.95 -5.05C1.95 -3.15 .25 -1.4 0 .4Z" transform="rotate(72)"/><path d="M0 .4C-.25 -1.4 -1.95 -3.15 -1.95 -5.05A1.95 1.95 0 1 1 1.95 -5.05C1.95 -3.15 .25 -1.4 0 .4Z" transform="rotate(144)"/><path d="M0 .4C-.25 -1.4 -1.95 -3.15 -1.95 -5.05A1.95 1.95 0 1 1 1.95 -5.05C1.95 -3.15 .25 -1.4 0 .4Z" transform="rotate(216)"/><path d="M0 .4C-.25 -1.4 -1.95 -3.15 -1.95 -5.05A1.95 1.95 0 1 1 1.95 -5.05C1.95 -3.15 .25 -1.4 0 .4Z" transform="rotate(288)"/></g>
<g transform="translate(556.60,560.80) scale(0.92)" fill="#000"><path d="M0 .4C-.25 -1.4 -1.95 -3.15 -1.95 -5.05A1.95 1.95 0 1 1 1.95 -5.05C1.95 -3.15 .25 -1.4 0 .4Z" transform="rotate(0)"/><path d="M0 .4C-.25 -1.4 -1.95 -3.15 -1.95 -5.05A1.95 1.95 0 1 1 1.95 -5.05C1.95 -3.15 .25 -1.4 0 .4Z" transform="rotate(72)"/><path d="M0 .4C-.25 -1.4 -1.95 -3.15 -1.95 -5.05A1.95 1.95 0 1 1 1.95 -5.05C1.95 -3.15 .25 -1.4 0 .4Z" transform="rotate(144)"/><path d="M0 .4C-.25 -1.4 -1.95 -3.15 -1.95 -5.05A1.95 1.95 0 1 1 1.95 -5.05C1.95 -3.15 .25 -1.4 0 .4Z" transform="rotate(216)"/><path d="M0 .4C-.25 -1.4 -1.95 -3.15 -1.95 -5.05A1.95 1.95 0 1 1 1.95 -5.05C1.95 -3.15 .25 -1.4 0 .4Z" transform="rotate(288)"/></g>
<g transform="translate(573.60,560.80) scale(0.92)" fill="#000"><path d="M0 .4C-.25 -1.4 -1.95 -3.15 -1.95 -5.05A1.95 1.95 0 1 1 1.95 -5.05C1.95 -3.15 .25 -1.4 0 .4Z" transform="rotate(0)"/><path d="M0 .4C-.25 -1.4 -1.95 -3.15 -1.95 -5.05A1.95 1.95 0 1 1 1.95 -5.05C1.95 -3.15 .25 -1.4 0 .4Z" transform="rotate(72)"/><path d="M0 .4C-.25 -1.4 -1.95 -3.15 -1.95 -5.05A1.95 1.95 0 1 1 1.95 -5.05C1.95 -3.15 .25 -1.4 0 .4Z" transform="rotate(144)"/><path d="M0 .4C-.25 -1.4 -1.95 -3.15 -1.95 -5.05A1.95 1.95 0 1 1 1.95 -5.05C1.95 -3.15 .25 -1.4 0 .4Z" transform="rotate(216)"/><path d="M0 .4C-.25 -1.4 -1.95 -3.15 -1.95 -5.05A1.95 1.95 0 1 1 1.95 -5.05C1.95 -3.15 .25 -1.4 0 .4Z" transform="rotate(288)"/></g>
<g transform="translate(590.60,560.80) scale(0.92)" fill="#000"><path d="M0 .4C-.25 -1.4 -1.95 -3.15 -1.95 -5.05A1.95 1.95 0 1 1 1.95 -5.05C1.95 -3.15 .25 -1.4 0 .4Z" transform="rotate(0)"/><path d="M0 .4C-.25 -1.4 -1.95 -3.15 -1.95 -5.05A1.95 1.95 0 1 1 1.95 -5.05C1.95 -3.15 .25 -1.4 0 .4Z" transform="rotate(72)"/><path d="M0 .4C-.25 -1.4 -1.95 -3.15 -1.95 -5.05A1.95 1.95 0 1 1 1.95 -5.05C1.95 -3.15 .25 -1.4 0 .4Z" transform="rotate(144)"/><path d="M0 .4C-.25 -1.4 -1.95 -3.15 -1.95 -5.05A1.95 1.95 0 1 1 1.95 -5.05C1.95 -3.15 .25 -1.4 0 .4Z" transform="rotate(216)"/><path d="M0 .4C-.25 -1.4 -1.95 -3.15 -1.95 -5.05A1.95 1.95 0 1 1 1.95 -5.05C1.95 -3.15 .25 -1.4 0 .4Z" transform="rotate(288)"/></g>
<g transform="translate(500.60,585.50) scale(0.92)" fill="#000"><path d="M0 .4C-.25 -1.4 -1.95 -3.15 -1.95 -5.05A1.95 1.95 0 1 1 1.95 -5.05C1.95 -3.15 .25 -1.4 0 .4Z" transform="rotate(0)"/><path d="M0 .4C-.25 -1.4 -1.95 -3.15 -1.95 -5.05A1.95 1.95 0 1 1 1.95 -5.05C1.95 -3.15 .25 -1.4 0 .4Z" transform="rotate(72)"/><path d="M0 .4C-.25 -1.4 -1.95 -3.15 -1.95 -5.05A1.95 1.95 0 1 1 1.95 -5.05C1.95 -3.15 .25 -1.4 0 .4Z" transform="rotate(144)"/><path d="M0 .4C-.25 -1.4 -1.95 -3.15 -1.95 -5.05A1.95 1.95 0 1 1 1.95 -5.05C1.95 -3.15 .25 -1.4 0 .4Z" transform="rotate(216)"/><path d="M0 .4C-.25 -1.4 -1.95 -3.15 -1.95 -5.05A1.95 1.95 0 1 1 1.95 -5.05C1.95 -3.15 .25 -1.4 0 .4Z" transform="rotate(288)"/></g>
<g transform="translate(517.60,585.50) scale(0.92)" fill="#000"><path d="M0 .4C-.25 -1.4 -1.95 -3.15 -1.95 -5.05A1.95 1.95 0 1 1 1.95 -5.05C1.95 -3.15 .25 -1.4 0 .4Z" transform="rotate(0)"/><path d="M0 .4C-.25 -1.4 -1.95 -3.15 -1.95 -5.05A1.95 1.95 0 1 1 1.95 -5.05C1.95 -3.15 .25 -1.4 0 .4Z" transform="rotate(72)"/><path d="M0 .4C-.25 -1.4 -1.95 -3.15 -1.95 -5.05A1.95 1.95 0 1 1 1.95 -5.05C1.95 -3.15 .25 -1.4 0 .4Z" transform="rotate(144)"/><path d="M0 .4C-.25 -1.4 -1.95 -3.15 -1.95 -5.05A1.95 1.95 0 1 1 1.95 -5.05C1.95 -3.15 .25 -1.4 0 .4Z" transform="rotate(216)"/><path d="M0 .4C-.25 -1.4 -1.95 -3.15 -1.95 -5.05A1.95 1.95 0 1 1 1.95 -5.05C1.95 -3.15 .25 -1.4 0 .4Z" transform="rotate(288)"/></g>
<g transform="translate(534.60,585.50) scale(0.92)" fill="#000"><path d="M0 .4C-.25 -1.4 -1.95 -3.15 -1.95 -5.05A1.95 1.95 0 1 1 1.95 -5.05C1.95 -3.15 .25 -1.4 0 .4Z" transform="rotate(0)"/><path d="M0 .4C-.25 -1.4 -1.95 -3.15 -1.95 -5.05A1.95 1.95 0 1 1 1.95 -5.05C1.95 -3.15 .25 -1.4 0 .4Z" transform="rotate(72)"/><path d="M0 .4C-.25 -1.4 -1.95 -3.15 -1.95 -5.05A1.95 1.95 0 1 1 1.95 -5.05C1.95 -3.15 .25 -1.4 0 .4Z" transform="rotate(144)"/><path d="M0 .4C-.25 -1.4 -1.95 -3.15 -1.95 -5.05A1.95 1.95 0 1 1 1.95 -5.05C1.95 -3.15 .25 -1.4 0 .4Z" transform="rotate(216)"/><path d="M0 .4C-.25 -1.4 -1.95 -3.15 -1.95 -5.05A1.95 1.95 0 1 1 1.95 -5.05C1.95 -3.15 .25 -1.4 0 .4Z" transform="rotate(288)"/></g>
<g transform="translate(551.60,585.50) scale(0.92)" fill="#000"><path d="M0 .4C-.25 -1.4 -1.95 -3.15 -1.95 -5.05A1.95 1.95 0 1 1 1.95 -5.05C1.95 -3.15 .25 -1.4 0 .4Z" transform="rotate(0)"/><path d="M0 .4C-.25 -1.4 -1.95 -3.15 -1.95 -5.05A1.95 1.95 0 1 1 1.95 -5.05C1.95 -3.15 .25 -1.4 0 .4Z" transform="rotate(72)"/><path d="M0 .4C-.25 -1.4 -1.95 -3.15 -1.95 -5.05A1.95 1.95 0 1 1 1.95 -5.05C1.95 -3.15 .25 -1.4 0 .4Z" transform="rotate(144)"/><path d="M0 .4C-.25 -1.4 -1.95 -3.15 -1.95 -5.05A1.95 1.95 0 1 1 1.95 -5.05C1.95 -3.15 .25 -1.4 0 .4Z" transform="rotate(216)"/><path d="M0 .4C-.25 -1.4 -1.95 -3.15 -1.95 -5.05A1.95 1.95 0 1 1 1.95 -5.05C1.95 -3.15 .25 -1.4 0 .4Z" transform="rotate(288)"/></g>
<g transform="translate(577.50,585.50) scale(0.92)" fill="#000"><path d="M0 .4C-.25 -1.4 -1.95 -3.15 -1.95 -5.05A1.95 1.95 0 1 1 1.95 -5.05C1.95 -3.15 .25 -1.4 0 .4Z" transform="rotate(0)"/><path d="M0 .4C-.25 -1.4 -1.95 -3.15 -1.95 -5.05A1.95 1.95 0 1 1 1.95 -5.05C1.95 -3.15 .25 -1.4 0 .4Z" transform="rotate(72)"/><path d="M0 .4C-.25 -1.4 -1.95 -3.15 -1.95 -5.05A1.95 1.95 0 1 1 1.95 -5.05C1.95 -3.15 .25 -1.4 0 .4Z" transform="rotate(144)"/><path d="M0 .4C-.25 -1.4 -1.95 -3.15 -1.95 -5.05A1.95 1.95 0 1 1 1.95 -5.05C1.95 -3.15 .25 -1.4 0 .4Z" transform="rotate(216)"/><path d="M0 .4C-.25 -1.4 -1.95 -3.15 -1.95 -5.05A1.95 1.95 0 1 1 1.95 -5.05C1.95 -3.15 .25 -1.4 0 .4Z" transform="rotate(288)"/></g>
<g transform="translate(594.50,585.50) scale(0.92)" fill="#000"><path d="M0 .4C-.25 -1.4 -1.95 -3.15 -1.95 -5.05A1.95 1.95 0 1 1 1.95 -5.05C1.95 -3.15 .25 -1.4 0 .4Z" transform="rotate(0)"/><path d="M0 .4C-.25 -1.4 -1.95 -3.15 -1.95 -5.05A1.95 1.95 0 1 1 1.95 -5.05C1.95 -3.15 .25 -1.4 0 .4Z" transform="rotate(72)"/><path d="M0 .4C-.25 -1.4 -1.95 -3.15 -1.95 -5.05A1.95 1.95 0 1 1 1.95 -5.05C1.95 -3.15 .25 -1.4 0 .4Z" transform="rotate(144)"/><path d="M0 .4C-.25 -1.4 -1.95 -3.15 -1.95 -5.05A1.95 1.95 0 1 1 1.95 -5.05C1.95 -3.15 .25 -1.4 0 .4Z" transform="rotate(216)"/><path d="M0 .4C-.25 -1.4 -1.95 -3.15 -1.95 -5.05A1.95 1.95 0 1 1 1.95 -5.05C1.95 -3.15 .25 -1.4 0 .4Z" transform="rotate(288)"/></g>
<g transform="translate(611.50,585.50) scale(0.92)" fill="#000"><path d="M0 .4C-.25 -1.4 -1.95 -3.15 -1.95 -5.05A1.95 1.95 0 1 1 1.95 -5.05C1.95 -3.15 .25 -1.4 0 .4Z" transform="rotate(0)"/><path d="M0 .4C-.25 -1.4 -1.95 -3.15 -1.95 -5.05A1.95 1.95 0 1 1 1.95 -5.05C1.95 -3.15 .25 -1.4 0 .4Z" transform="rotate(72)"/><path d="M0 .4C-.25 -1.4 -1.95 -3.15 -1.95 -5.05A1.95 1.95 0 1 1 1.95 -5.05C1.95 -3.15 .25 -1.4 0 .4Z" transform="rotate(144)"/><path d="M0 .4C-.25 -1.4 -1.95 -3.15 -1.95 -5.05A1.95 1.95 0 1 1 1.95 -5.05C1.95 -3.15 .25 -1.4 0 .4Z" transform="rotate(216)"/><path d="M0 .4C-.25 -1.4 -1.95 -3.15 -1.95 -5.05A1.95 1.95 0 1 1 1.95 -5.05C1.95 -3.15 .25 -1.4 0 .4Z" transform="rotate(288)"/></g>
<g transform="translate(628.50,585.50) scale(0.92)" fill="#000"><path d="M0 .4C-.25 -1.4 -1.95 -3.15 -1.95 -5.05A1.95 1.95 0 1 1 1.95 -5.05C1.95 -3.15 .25 -1.4 0 .4Z" transform="rotate(0)"/><path d="M0 .4C-.25 -1.4 -1.95 -3.15 -1.95 -5.05A1.95 1.95 0 1 1 1.95 -5.05C1.95 -3.15 .25 -1.4 0 .4Z" transform="rotate(72)"/><path d="M0 .4C-.25 -1.4 -1.95 -3.15 -1.95 -5.05A1.95 1.95 0 1 1 1.95 -5.05C1.95 -3.15 .25 -1.4 0 .4Z" transform="rotate(144)"/><path d="M0 .4C-.25 -1.4 -1.95 -3.15 -1.95 -5.05A1.95 1.95 0 1 1 1.95 -5.05C1.95 -3.15 .25 -1.4 0 .4Z" transform="rotate(216)"/><path d="M0 .4C-.25 -1.4 -1.95 -3.15 -1.95 -5.05A1.95 1.95 0 1 1 1.95 -5.05C1.95 -3.15 .25 -1.4 0 .4Z" transform="rotate(288)"/></g>
<text transform="translate(377.60,696.20) rotate(-90) scale(0.9524,1)" font-family="Liberation Serif" font-weight="bold" font-size="20.16" text-anchor="middle" fill="#000">Ratio of unique genes to total genes</text>
<text transform="translate(400.20,693.90) rotate(-90) scale(0.9524,1)" font-family="Liberation Serif" font-weight="bold" font-size="20.16" text-anchor="middle" fill="#000">in each strain-pair</text>
<text transform="translate(514.80,717.20) rotate(-90) scale(0.9524,1)" font-family="Liberation Serif" font-weight="bold" font-size="20.58" text-anchor="start" fill="#000">n=4,560</text>
<text transform="translate(588.70,709.50) rotate(-90) scale(0.9524,1)" font-family="Liberation Serif" font-weight="bold" font-size="20.58" text-anchor="start" fill="#000">n=13,366</text>
<text transform="translate(664.20,724.50) rotate(-90) scale(0.9524,1)" font-family="Liberation Serif" font-weight="bold" font-size="20.58" text-anchor="start" fill="#000">n=13,203</text>
<text transform="translate(496.90,860.50) rotate(-45) scale(0.9524,1)" font-family="Liberation Serif" font-weight="bold" font-size="23.94" text-anchor="end" fill="#000">complete</text>
<text transform="translate(571.70,860.50) rotate(-45) scale(0.9524,1)" font-family="Liberation Serif" font-weight="bold" font-size="23.94" text-anchor="end" fill="#000">incomplete</text>
<text transform="translate(645.70,861.50) rotate(-45) scale(0.9524,1)" font-family="Liberation Serif" font-weight="bold" font-size="23.94" text-anchor="end" fill="#000">none</text>
</svg></body></html>
